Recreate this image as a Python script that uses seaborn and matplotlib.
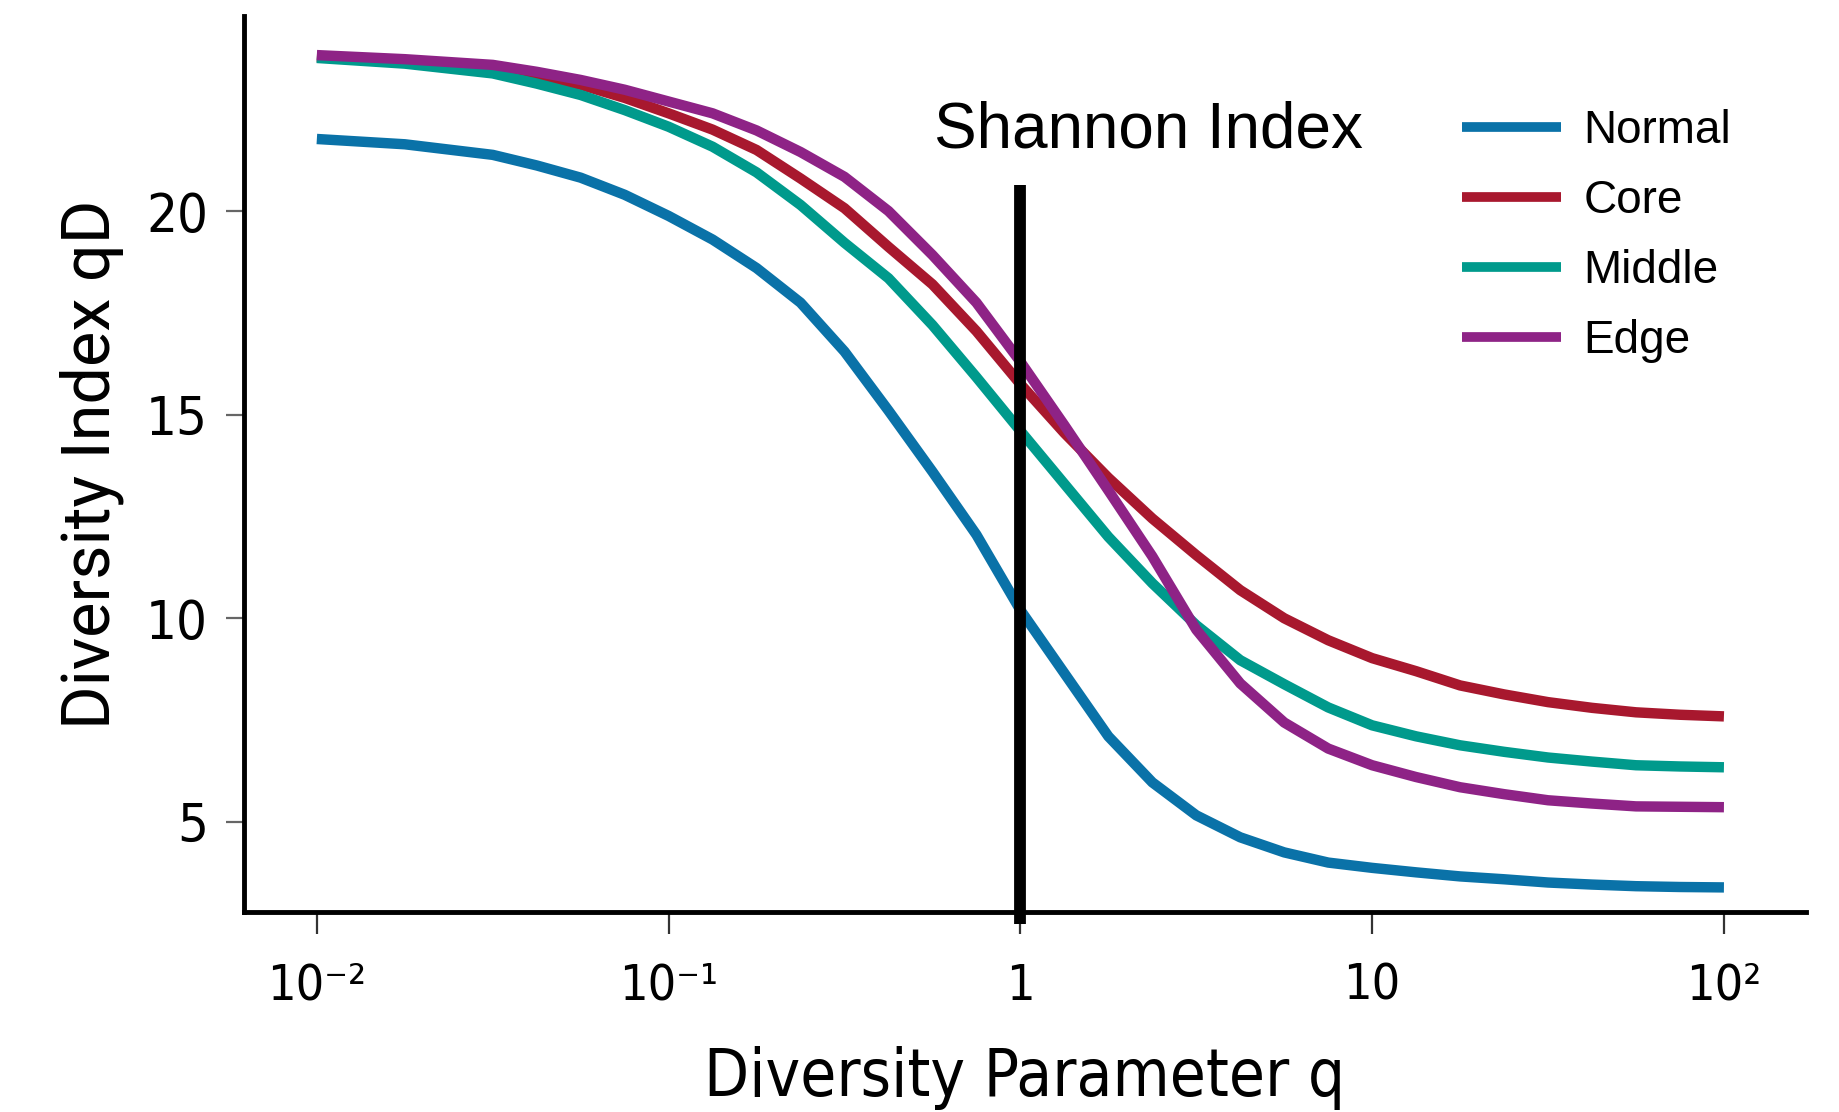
import numpy as np
import pandas as pd
import matplotlib.pyplot as plt
import seaborn as sns

# valeurs (axe x en log10 q)
log_q = [-2, -1.75, -1.5, -1.375, -1.25, -1.125, -1, -0.875, -0.75, -0.625, -0.5,
         -0.375, -0.25, -0.125, 0, 0.125, 0.25, 0.375, 0.5, 0.625, 0.75, 0.875, 1,
         1.125, 1.25, 1.375, 1.5, 1.625, 1.75, 1.875, 2]

normal = [21.77, 21.64, 21.38, 21.12, 20.82, 20.4, 19.88, 19.3, 18.6, 17.75, 16.55,
          15.1, 13.6, 12.05, 10.2, 8.65, 7.1, 5.97, 5.16, 4.62, 4.25, 4.0, 3.87,
          3.76, 3.66, 3.59, 3.51, 3.46, 3.42, 3.40, 3.39]
core = [23.78, 23.69, 23.5, 23.32, 23.1, 22.78, 22.4, 22.0, 21.5, 20.8, 20.07,
        19.12, 18.2, 17.05, 15.75, 14.55, 13.45, 12.45, 11.55, 10.69, 10.0, 9.46, 9.02,
        8.7, 8.35, 8.13, 7.94, 7.8, 7.69, 7.63, 7.59]
middle = [23.76, 23.62, 23.38, 23.13, 22.85, 22.48, 22.07, 21.58, 20.95, 20.15, 19.22,
          18.35, 17.2, 15.92, 14.6, 13.3, 12.0, 10.86, 9.83, 8.97, 8.38, 7.81, 7.37,
          7.1, 6.88, 6.72, 6.58, 6.48, 6.39, 6.36, 6.34]
edge = [23.83, 23.73, 23.59, 23.42, 23.22, 22.98, 22.69, 22.4, 21.98, 21.45, 20.84,
        20.0, 18.92, 17.75, 16.3, 14.74, 13.14, 11.52, 9.72, 8.4, 7.44, 6.8, 6.39,
        6.1, 5.85, 5.68, 5.53, 5.45, 5.38, 5.37, 5.36]

groups = ["Normal", "Core", "Middle", "Edge"]
colors = {"Normal": "#0a72a8", "Core": "#a8182e", "Middle": "#009a8c", "Edge": "#8e2386"}

x_ticks = [0.01, 0.1, 1, 10, 100]
x_ticklabels = ["10⁻²", "10⁻¹", "1", "10", "10²"]
y_ticks = [5, 10, 15, 20]

df = pd.DataFrame({
    "q": np.power(10.0, log_q * 4),
    "qD": normal + core + middle + edge,
    "group": np.repeat(groups, len(log_q)),
})

sns.set_theme(style="ticks")
plt.rcParams.update({
    "text.color": "black",
    "axes.labelcolor": "black",
    "xtick.labelcolor": "black",
    "ytick.labelcolor": "black",
})
NARROW = ["DejaVu Sans"]

fig = plt.figure(figsize=(18.39, 11.12), dpi=100)
ax = fig.add_axes([0.1327, 0.18, 0.8493, 0.8056])

sns.lineplot(data=df, x="q", y="qD", hue="group", hue_order=groups,
             palette=colors, lw=7.5, ax=ax, legend=True, sort=False,
             solid_capstyle="butt")

ax.set_xscale("log")
ax.set_xlim(10 ** -2.207, 10 ** 2.233)
ax.set_ylim(2.79, 24.79)

# ligne verticale : indice de Shannon (q = 1)
ax.vlines(1, 2.5, 20.64, color="black", lw=8.5, zorder=10, clip_on=False)
ax.text(2.31, 21.98, "Shannon Index", ha="center", va="center",
        fontsize=46, family=["Liberation Sans", "DejaVu Sans"], color="black")

ax.set_xticks(x_ticks)
ax.set_xticklabels(x_ticklabels)
ax.minorticks_off()
ax.set_yticks(y_ticks)
for lab in ax.get_xticklabels():
    lab.set_family(NARROW)
    lab.set_stretch("condensed")
    lab.set_fontsize(36)
for lab in ax.get_yticklabels():
    lab.set_family(NARROW)
    lab.set_stretch("condensed")
    lab.set_fontsize(39)
ax.tick_params(axis="x", length=16, width=1.6, color="#333333", pad=20)
ax.tick_params(axis="y", length=13, width=1.6, color="#666666", pad=13)

for side in ["top", "right"]:
    ax.spines[side].set_visible(False)
for side in ["left", "bottom"]:
    ax.spines[side].set_linewidth(3.5)
    ax.spines[side].set_color("black")

ax.set_xlabel("Diversity Parameter q", fontsize=47, family=NARROW,
              fontstretch="condensed", labelpad=26)
ax.set_ylabel("Diversity Index qD", fontsize=48, family=["Roboto", "DejaVu Sans"],
              labelpad=16)

leg = ax.legend(loc="upper left", bbox_to_anchor=(1462 / 1839, 1 - 109 / 1112),
                bbox_transform=fig.transFigure, frameon=False, fontsize=33,
                handlelength=2.15, handletextpad=0.5, labelspacing=0.57,
                borderpad=0, borderaxespad=0)
for line in leg.get_lines():
    line.set_linewidth(7)
for t in leg.get_texts():
    t.set_family(["Liberation Sans", "DejaVu Sans"])

fig.savefig("out.png", dpi=100)
